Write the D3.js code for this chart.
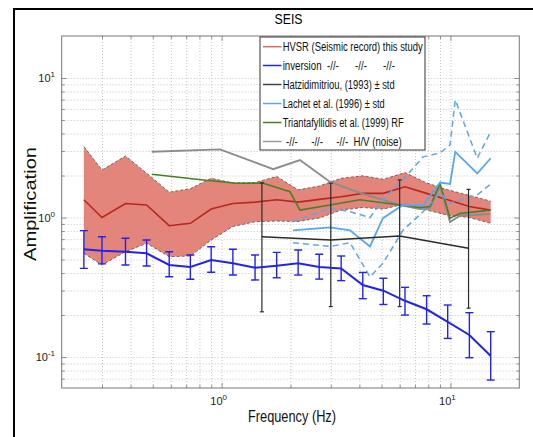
<!DOCTYPE html>
<html><head><meta charset="utf-8">
<script src="https://cdn.jsdelivr.net/npm/d3@7"></script>
<style>body{margin:0;background:#fff}</style>
</head><body>
<svg id="c" width="533" height="437"></svg>
<script>
// ---------- data ----------
const hvsrFreq  = [0.25,0.30,0.38,0.47,0.59,0.73,0.90,1.12,1.40,1.74,2.16,2.67,3.33,4.14,5.09,6.33,7.87,9.73,12.1,15.0];
const hvsrMean  = [1.34,1.00,1.26,1.23,0.874,0.909,1.15,1.26,1.29,1.34,1.29,1.35,1.41,1.49,1.49,1.66,1.49,1.34,1.20,1.13];
const hvsrUpper = [3.23,2.19,2.76,2.08,1.52,1.61,1.91,1.77,1.78,1.97,1.58,1.68,1.91,1.99,1.88,2.10,1.77,1.58,1.44,1.31];
const hvsrLower = [0.554,0.457,0.569,0.654,0.524,0.530,0.690,0.862,0.933,0.944,0.936,0.992,1.13,1.18,1.15,1.25,1.13,1.04,1.00,0.909];

const invMean = [0.592,0.578,0.569,0.554,0.457,0.442,0.496,0.470,0.437,0.452,0.470,0.442,0.432,0.328,0.299,0.253,0.220,0.179,0.144,0.1017];
const invHigh = [0.805,0.729,0.710,0.690,0.569,0.539,0.618,0.592,0.539,0.563,0.585,0.545,0.530,0.404,0.367,0.316,0.275,0.236,0.208,0.152];
const invLow  = [0.432,0.465,0.457,0.449,0.376,0.361,0.405,0.387,0.357,0.370,0.387,0.362,0.353,0.262,0.238,0.200,0.1725,0.136,0.0989,0.0684];

const hatzFreq = [1.5,3.0,6.0,12.0];
const hatzMean = [0.729,0.690,0.737,0.602];
const hatzHigh = [1.77,1.76,1.86,1.59];
const hatzLow  = [0.211,0.230,0.230,0.224];

const lachetFreq  = [2.05,2.98,3.64,4.45,5.07,6.20,7.59,9.00,9.96,10.5,13.1,15.0];
const lachetMean  = [0.81,0.85,0.81,0.62,0.99,1.23,1.22,1.78,1.74,2.96,2.07,2.66];
const lachetUpper = [0.93,1.17,1.10,1.00,1.34,1.86,2.72,2.90,3.31,6.96,2.66,4.12];
const lachetLower = [0.66,0.62,0.66,0.375,0.47,0.81,1.10,1.50,1.27,1.30,1.45,1.74];

const triFreq = [0.495,0.832,1.16,1.52,1.99,2.20,2.98,4.02,6.02,7.36,8.14,9.00,9.96,11.0,14.9];
const triVal  = [2.04,1.86,1.76,1.76,1.53,1.13,1.23,1.34,1.23,1.18,1.20,1.76,0.99,1.07,1.13];

const noiseFreq = [0.495,0.984,1.68,2.20,2.98,4.02,6.02,7.36,8.14,9.00,9.96,11.0,14.9];
const noiseVal  = [2.96,3.08,2.22,2.58,1.80,1.50,1.23,1.15,1.17,1.68,0.929,1.03,1.06];

const xMajor = [1,10];
const yMajor = [0.1,1,10];
const xGridVals = [0.3,0.4,0.5,0.6,0.7,0.8,0.9,1,2,3,4,5,6,7,8,9,10];
const yGridVals = [0.07,0.08,0.09,0.1,0.2,0.3,0.4,0.5,0.6,0.7,0.8,0.9,1,2,3,4,5,6,7,8,9,10];

const legendLabels = [
  "HVSR (Seismic record) this study",
  "inversion  -//-      -//-      -//-",
  "Hatzidimitriou, (1993) \u00b1 std",
  "Lachet et al. (1996) \u00b1 std",
  "Triantafyllidis et al. (1999) RF",
  "-//-     -//-     -//-  H/V (noise)"
];

// ---------- drawing ----------
const W = 533, H = 437;
const P = {l:61.7, r:519.3, t:36, b:388};
const svg = d3.select('#c');
const FONT = "'Liberation Sans', Arial, sans-serif";

const x = d3.scaleLog().domain([0.2,20]).range([P.l,P.r]);
const y = d3.scaleLog().domain([0.06,20]).range([P.b,P.t]);

svg.append('rect').attr('width',W).attr('height',H).attr('fill','#fff');
// outer figure frame
svg.append('rect').attr('x',14).attr('y',9).attr('width',640).attr('height',640)
  .attr('fill','none').attr('stroke','#000').attr('stroke-width',2);

// title
svg.append('text').attr('x',(P.l+P.r)/2 - 2).attr('y',24).attr('text-anchor','middle')
  .attr('font-family',FONT).attr('font-size',14).attr('textLength',28).attr('lengthAdjust','spacingAndGlyphs')
  .text('SEIS');

// grid via axes
const gx = svg.append('g').attr('transform',`translate(0,${P.b})`)
  .call(d3.axisBottom(x).tickValues(xGridVals).tickSize(-(P.b-P.t)).tickFormat(''));
gx.select('.domain').remove();
gx.selectAll('line').attr('stroke','#b8b8b8').attr('stroke-dasharray','1,2').attr('stroke-width',0.8);
const gy = svg.append('g').attr('transform',`translate(${P.l},0)`)
  .call(d3.axisLeft(y).tickValues(yGridVals).tickSize(-(P.r-P.l)).tickFormat(''));
gy.select('.domain').remove();
gy.selectAll('line').attr('stroke','#b8b8b8').attr('stroke-dasharray','1,2').attr('stroke-width',0.8);

// inward tick marks (box on)
function ticks(axisFn, scale, vals, len, tr){
  const g = svg.append('g').attr('transform',tr)
    .call(axisFn(scale).tickValues(vals).tickSize(len).tickFormat(''));
  g.select('.domain').remove();
  g.selectAll('line').attr('stroke','#777').attr('stroke-width',0.8);
}
const xMinor = xGridVals.filter(v=>!xMajor.includes(v));
const yMinor = yGridVals.filter(v=>!yMajor.includes(v));
ticks(d3.axisBottom,x,xMajor,-5,`translate(0,${P.b})`);
ticks(d3.axisBottom,x,xMinor,-3,`translate(0,${P.b})`);
ticks(d3.axisTop,x,xMajor,-5,`translate(0,${P.t})`);
ticks(d3.axisTop,x,xMinor,-3,`translate(0,${P.t})`);
ticks(d3.axisLeft,y,yMajor,-5,`translate(${P.l},0)`);
ticks(d3.axisLeft,y,yMinor,-3,`translate(${P.l},0)`);
ticks(d3.axisRight,y,yMajor,-5,`translate(${P.r},0)`);
ticks(d3.axisRight,y,yMinor,-3,`translate(${P.r},0)`);

// tick labels
function expLabel(v){ return Math.round(Math.log10(v)); }
xMajor.forEach(v=>{
  const t = svg.append('text').attr('x',x(v)-3).attr('y',405).attr('text-anchor','middle')
    .attr('font-family',FONT).attr('font-size',11).attr('fill','#222');
  t.append('tspan').text('10');
  t.append('tspan').attr('dy',-5).attr('font-size',8).text(expLabel(v));
});
yMajor.forEach(v=>{
  const t = svg.append('text').attr('x',55).attr('y',y(v)+4).attr('text-anchor','end')
    .attr('font-family',FONT).attr('font-size',11).attr('fill','#222');
  t.append('tspan').text('10');
  t.append('tspan').attr('dy',-5).attr('font-size',8).text(expLabel(v));
});

// axis titles
svg.append('text').attr('x',292).attr('y',422).attr('text-anchor','middle')
  .attr('font-family',FONT).attr('font-size',17).attr('fill','#111')
  .attr('textLength',88).attr('lengthAdjust','spacingAndGlyphs').text('Frequency (Hz)');
svg.append('text').attr('transform','translate(36,204) rotate(-90)').attr('text-anchor','middle')
  .attr('font-family',FONT).attr('font-size',17).attr('fill','#111')
  .attr('textLength',114).attr('lengthAdjust','spacingAndGlyphs').text('Amplification');

// clip
svg.append('clipPath').attr('id','clip').append('rect')
  .attr('x',P.l).attr('y',P.t).attr('width',P.r-P.l).attr('height',P.b-P.t);
const plot = svg.append('g').attr('clip-path','url(#clip)');

// HVSR band
const hv = hvsrFreq.map((f,i)=>({f, m:hvsrMean[i], hi:hvsrUpper[i], lo:hvsrLower[i]}));
plot.append('path').datum(hv)
  .attr('d', d3.area().x(d=>x(d.f)).y0(d=>y(d.lo)).y1(d=>y(d.hi)))
  .attr('fill','#e3857a').attr('stroke','none');
['hi','lo'].forEach(k=>{
  plot.append('path').datum(hv)
    .attr('d', d3.line().x(d=>x(d.f)).y(d=>y(d[k])))
    .attr('fill','none').attr('stroke','#6a5a58').attr('stroke-width',0.9).attr('stroke-dasharray','3,2');
});
plot.append('path').datum(hv)
  .attr('d', d3.line().x(d=>x(d.f)).y(d=>y(d.m)))
  .attr('fill','none').attr('stroke','#b8281c').attr('stroke-width',1.6);

// H/V noise (gray)
const line = d3.line().x(d=>x(d[0])).y(d=>y(d[1]));
plot.append('path').datum(noiseFreq.map((f,i)=>[f,noiseVal[i]]))
  .attr('d',line).attr('fill','none').attr('stroke','#8c8c8c').attr('stroke-width',1.9);

// Triantafyllidis (green)
plot.append('path').datum(triFreq.map((f,i)=>[f,triVal[i]]))
  .attr('d',line).attr('fill','none').attr('stroke','#4b7f23').attr('stroke-width',1.6);

// Lachet (light blue)
plot.append('path').datum(lachetFreq.map((f,i)=>[f,lachetMean[i]]))
  .attr('d',line).attr('fill','none').attr('stroke','#5aa7ef').attr('stroke-width',1.8);
[lachetUpper, lachetLower].forEach(arr=>{
  plot.append('path').datum(lachetFreq.map((f,i)=>[f,arr[i]]))
    .attr('d',line).attr('fill','none').attr('stroke','#5aa7ef').attr('stroke-width',1.5)
    .attr('stroke-dasharray','6,4');
});

// Hatzidimitriou (black)
plot.append('path').datum(hatzFreq.map((f,i)=>[f,hatzMean[i]]))
  .attr('d',line).attr('fill','none').attr('stroke','#2b2b2b').attr('stroke-width',1.6);
hatzFreq.forEach((f,i)=>{
  const g = plot.append('g').attr('stroke','#2b2b2b').attr('stroke-width',1.2);
  g.append('line').attr('x1',x(f)).attr('x2',x(f)).attr('y1',y(hatzHigh[i])).attr('y2',y(hatzLow[i]));
  [hatzHigh[i],hatzLow[i]].forEach(v=>g.append('line').attr('x1',x(f)-2).attr('x2',x(f)+2).attr('y1',y(v)).attr('y2',y(v)));
});

// inversion (blue) with error bars
plot.append('path').datum(hvsrFreq.map((f,i)=>[f,invMean[i]]))
  .attr('d',line).attr('fill','none').attr('stroke','#2323ee').attr('stroke-width',2);
hvsrFreq.forEach((f,i)=>{
  const g = plot.append('g').attr('stroke','#2323ee').attr('stroke-width',1.4);
  g.append('line').attr('x1',x(f)).attr('x2',x(f)).attr('y1',y(invHigh[i])).attr('y2',y(invLow[i]));
  [invHigh[i],invLow[i]].forEach(v=>g.append('line').attr('x1',x(f)-4).attr('x2',x(f)+4).attr('y1',y(v)).attr('y2',y(v)));
});

// axes box
svg.append('rect').attr('x',P.l).attr('y',P.t).attr('width',P.r-P.l).attr('height',P.b-P.t)
  .attr('fill','none').attr('stroke','#777').attr('stroke-width',1);

// legend
const L = {x:260, y:37, w:165, h:113};
svg.append('rect').attr('x',L.x).attr('y',L.y).attr('width',L.w).attr('height',L.h)
  .attr('fill','#fff').attr('stroke','#333').attr('stroke-width',1);
const legColors = ['#e06a60','#2323ee','#444','#5aa7ef','#4b7f23','#999'];
const rowY = [46.7,65.5,84.5,103.5,122.5,141.5];
const legX = [282.7,282.7,282.7,282.7,282.7,286];
const legW = [140,112.3,112,102,121,115.7];
legColors.forEach((c,i)=>{
  svg.append('line').attr('x1',263).attr('x2',281.5).attr('y1',rowY[i]).attr('y2',rowY[i])
    .attr('stroke',c).attr('stroke-width',1.5);
});
legendLabels.forEach((s,i)=>{
  svg.append('text').attr('x',legX[i]).attr('y',rowY[i]+4.3)
    .attr('xml:space','preserve').style('white-space','pre')
    .attr('font-family',FONT).attr('font-size',12).attr('fill','#111')
    .attr('textLength',legW[i]).attr('lengthAdjust','spacingAndGlyphs')
    .text(s);
});
</script>
</body></html>
